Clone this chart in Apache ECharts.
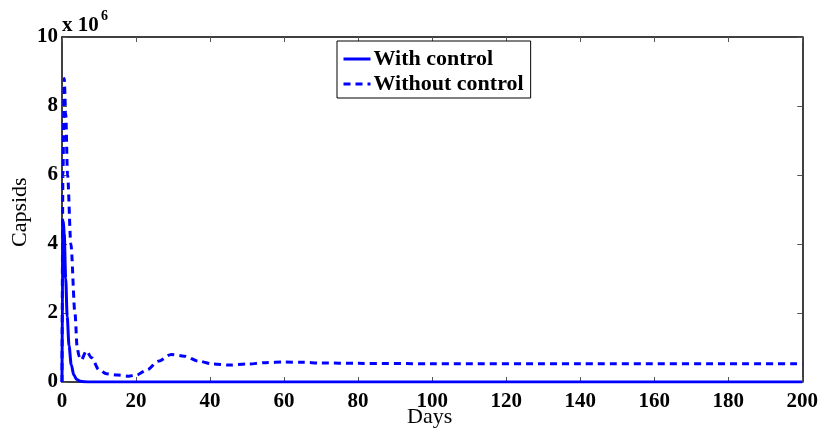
<!DOCTYPE html>
<html>
<head>
<meta charset="utf-8">
<script src="https://cdn.jsdelivr.net/npm/echarts@6/dist/echarts.min.js"></script>
<style>
html,body{margin:0;padding:0;background:#fff;}
#chart{width:821px;height:432px;}
</style>
</head>
<body>
<div id="chart"></div>
<script>
// Days (x) and capsid counts (in units of 1e6)
var withControlDays   = [0, 0.15, 0.35, 0.6, 1.0, 1.4, 1.9, 2.5, 3.2, 4.0, 5.0, 6.0, 8.0, 200];
var withControlValues = [0, 3.2, 4.65, 4.3, 3.0, 1.9, 1.05, 0.5, 0.2, 0.07, 0.02, 0.005, 0, 0];

var withoutControlDays   = [0, 0.25, 0.6, 1.0, 1.5, 2.4, 3.5, 4.1, 4.6, 5.2, 6.6, 8, 10, 12, 15, 18, 20, 23, 26, 29.5, 33, 37, 41, 45, 50, 55, 60, 65, 70, 80, 100, 140, 200];
var withoutControlValues = [0, 6.0, 8.8, 7.8, 6.0, 4.0, 2.0, 1.0, 0.75, 0.64, 0.9, 0.7, 0.35, 0.24, 0.2, 0.17, 0.2, 0.35, 0.6, 0.8, 0.75, 0.6, 0.52, 0.49, 0.52, 0.56, 0.58, 0.57, 0.55, 0.54, 0.53, 0.53, 0.53];

var xTicks = [0, 20, 40, 60, 80, 100, 120, 140, 160, 180, 200];
var yTicks = [0, 2, 4, 6, 8, 10];
var seriesNames = ['With control', 'Without control'];
var scaleLabel = 'x 10';
var scaleExp = '6';
var xTitle = 'Days';
var yTitle = 'Capsids';

function pairs(xs, ys) { return xs.map(function (x, i) { return [x, ys[i]]; }); }

var serif = '"Liberation Serif", "DejaVu Serif", serif';
var chart = echarts.init(document.getElementById('chart'), null, {renderer: 'canvas'});
var axisLabelStyle = {fontFamily: serif, fontWeight: 'bold', fontSize: 21, color: '#000'};
chart.setOption({
  animation: false,
  backgroundColor: '#fff',
  grid: {left: 62, right: 18, top: 37, bottom: 50, containLabel: false},
  legend: {
    orient: 'vertical', left: 337, top: 41,
    itemWidth: 27, itemHeight: 14, itemGap: 3,
    padding: [7, 7, 3, 5],
    borderColor: '#000', borderWidth: 1, backgroundColor: '#fff',
    itemStyle: {opacity: 0},
    lineStyle: {width: 3},
    textStyle: {fontFamily: serif, fontWeight: 'bold', fontSize: 22, color: '#000', padding: [0, 0, 0, -2]},
    data: seriesNames
  },
  xAxis: [{
    type: 'value', min: 0, max: 200, interval: 20,
    axisLine: {show: true, onZero: false, lineStyle: {color: '#000', width: 1.5}},
    axisTick: {show: true, inside: true, length: 5, lineStyle: {color: '#555', width: 1}},
    axisLabel: Object.assign({margin: 9, formatter: function (v) { return xTicks.indexOf(v) >= 0 ? String(v) : ''; }}, axisLabelStyle),
    splitLine: {show: false}
  }, {
    type: 'value', min: 0, max: 200, interval: 20, position: 'top',
    axisLine: {show: true, onZero: false, lineStyle: {color: '#000', width: 1.5}},
    axisTick: {show: true, inside: true, length: 5, lineStyle: {color: '#555', width: 1}},
    axisLabel: {show: false}, splitLine: {show: false}
  }],
  yAxis: [{
    type: 'value', min: 0, max: 10, interval: 2,
    axisLine: {show: true, onZero: false, lineStyle: {color: '#000', width: 1.5}},
    axisTick: {show: true, inside: true, length: 5, lineStyle: {color: '#555', width: 1}},
    axisLabel: Object.assign({margin: 4, formatter: function (v) { return yTicks.indexOf(v) >= 0 ? String(v) : ''; }}, axisLabelStyle),
    splitLine: {show: false}
  }, {
    type: 'value', min: 0, max: 10, interval: 2, position: 'right',
    axisLine: {show: true, onZero: false, lineStyle: {color: '#000', width: 1.5}},
    axisTick: {show: true, inside: true, length: 5, lineStyle: {color: '#555', width: 1}},
    axisLabel: {show: false}, splitLine: {show: false}
  }],
  graphic: [
    {type: 'text', left: 62, top: 15, style: {text: scaleLabel, font: 'bold 21px ' + serif, fill: '#000'}},
    {type: 'text', left: 101, top: 9, style: {text: scaleExp, font: 'bold 14px ' + serif, fill: '#000'}},
    {type: 'text', left: 407, top: 406, style: {text: xTitle, font: '22px ' + serif, fill: '#000'}},
    {type: 'text', x: 9, y: 247, rotation: Math.PI / 2, style: {text: yTitle, font: '22px ' + serif, fill: '#000'}}
  ],
  series: [{
    name: seriesNames[0], type: 'line', symbol: 'none', smooth: 0.3, smoothMonotone: 'x',
    lineStyle: {color: '#0000ff', width: 3, type: 'solid'}, itemStyle: {color: '#0000ff'},
    data: pairs(withControlDays, withControlValues), z: 3
  }, {
    name: seriesNames[1], type: 'line', symbol: 'none', smooth: 0.3, smoothMonotone: 'x',
    lineStyle: {color: '#0000ff', width: 3, type: [7, 5]}, itemStyle: {color: '#0000ff'},
    data: pairs(withoutControlDays, withoutControlValues), z: 2
  }]
});
</script>
</body>
</html>
